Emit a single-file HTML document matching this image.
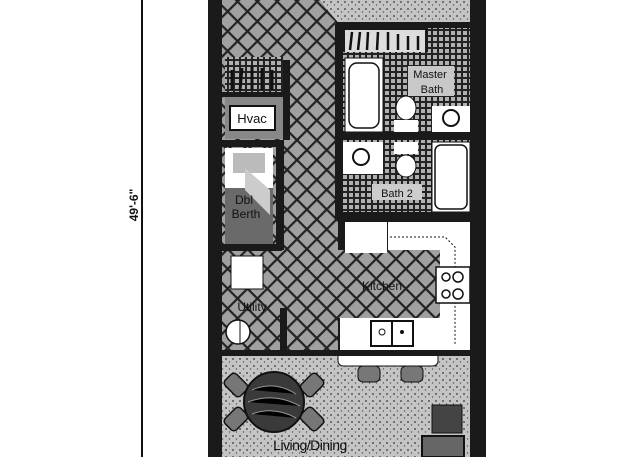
<!DOCTYPE html>
<html><head><meta charset="utf-8"><style>
html,body{margin:0;padding:0;background:#fff;}
svg{display:block;}
text{font-family:"Liberation Sans",sans-serif;}
</style></head><body>
<svg width="640" height="457" viewBox="0 0 640 457" xmlns="http://www.w3.org/2000/svg">
<defs>
<pattern id="xh" width="14" height="14" patternUnits="userSpaceOnUse" patternTransform="rotate(45)">
<rect width="14" height="14" fill="#a0a0a0"/>
<rect width="14" height="2.2" fill="#222"/><rect width="2.2" height="14" fill="#222"/>
</pattern>
<pattern id="grid" width="6" height="6" patternUnits="userSpaceOnUse">
<rect width="6" height="6" fill="#222"/>
<rect x="1" y="1" width="4" height="4" fill="#b0b0b0"/>
</pattern>
<pattern id="dots" width="7" height="7" patternUnits="userSpaceOnUse">
<rect width="7" height="7" fill="#c4c4c4"/>
<circle cx="2" cy="2" r="0.9" fill="#333"/><circle cx="5.5" cy="5" r="0.7" fill="#555"/>
</pattern>
</defs>
<rect width="640" height="457" fill="#fff"/>
<line x1="142" y1="0" x2="142" y2="457" stroke="#111" stroke-width="2"/>
<text transform="translate(138,205) rotate(-90)" font-size="12" font-weight="bold" text-anchor="middle" fill="#111">49'-6"</text>
<rect x="208" y="0" width="278" height="457" fill="#1a1a1a"/>
<rect x="222" y="0" width="116" height="350" fill="url(#xh)"/>
<rect x="340" y="0" width="132" height="24" fill="url(#dots)"/>
<path d="M320 0 Q335 20 340 24 L340 0Z" fill="url(#dots)"/>
<rect x="345" y="30" width="80" height="22" fill="#ddd"/>
<g stroke="#111" stroke-width="2.5"><line x1="352" y1="32" x2="350" y2="50"/><line x1="360" y1="32" x2="358" y2="50"/><line x1="368" y1="32" x2="367" y2="50"/><line x1="378" y1="32" x2="377" y2="50"/><line x1="388" y1="32" x2="388" y2="50"/><line x1="398" y1="34" x2="398" y2="50"/><line x1="408" y1="36" x2="408" y2="50"/><line x1="418" y1="36" x2="418" y2="50"/></g>
<rect x="428" y="26" width="42" height="26" fill="url(#grid)"/>
<rect x="343" y="52" width="127" height="80" fill="url(#grid)"/>
<rect x="345" y="58" width="38" height="74" fill="#fff" stroke="#111"/>
<rect x="349" y="63" width="30" height="65" rx="8" fill="#fff" stroke="#111" stroke-width="1.5"/>
<ellipse cx="406" cy="108" rx="10" ry="12" fill="#fff" stroke="#111"/>
<rect x="394" y="120" width="24" height="12" fill="#fff"/>
<rect x="432" y="106" width="38" height="26" fill="#fff"/>
<circle cx="451" cy="118" r="8" fill="none" stroke="#111" stroke-width="2"/>
<rect x="408" y="66" width="46" height="30" fill="#c8c8c8"/>
<text x="430" y="78" font-size="11" text-anchor="middle" fill="#111">Master</text>
<text x="432" y="93" font-size="11" text-anchor="middle" fill="#111">Bath</text>
<rect x="343" y="140" width="127" height="72" fill="url(#grid)"/>
<rect x="343" y="142" width="40" height="32" fill="#fff"/>
<circle cx="361" cy="157" r="8" fill="none" stroke="#111" stroke-width="2"/>
<rect x="394" y="142" width="24" height="12" fill="#fff"/>
<ellipse cx="406" cy="166" rx="10" ry="11" fill="#fff" stroke="#111"/>
<rect x="432" y="142" width="38" height="70" fill="#fff" stroke="#111"/>
<rect x="435" y="145" width="32" height="64" rx="6" fill="#fff" stroke="#111" stroke-width="1.5"/>
<rect x="372" y="184" width="50" height="16" fill="#ccc"/>
<text x="397" y="197" font-size="11" text-anchor="middle" fill="#111">Bath 2</text>
<rect x="225" y="57" width="58" height="35" fill="url(#grid)"/>
<g stroke="#111" stroke-width="3"><line x1="232" y1="70" x2="232" y2="90"/><line x1="242" y1="68" x2="240" y2="90"/><line x1="252" y1="66" x2="252" y2="90"/><line x1="262" y1="68" x2="262" y2="90"/><line x1="272" y1="70" x2="272" y2="90"/></g>
<rect x="225" y="97" width="58" height="42" fill="#888"/>
<rect x="230" y="106" width="45" height="24" fill="#fff" stroke="#111" stroke-width="2"/>
<text x="252" y="123" font-size="13" text-anchor="middle" fill="#111">Hvac</text>
<rect x="225" y="148" width="48" height="96" fill="#6a6a6a"/>
<rect x="225" y="148" width="48" height="40" fill="#fff"/>
<rect x="233" y="153" width="32" height="20" fill="#bbb"/>
<polygon points="245,168 270,190 270,215 245,190" fill="#ccc"/>
<text x="244" y="204" font-size="12" text-anchor="middle" fill="#111">Dbl</text>
<text x="246" y="218" font-size="12" text-anchor="middle" fill="#111">Berth</text>
<rect x="224" y="252" width="56" height="96" fill="url(#xh)"/>
<rect x="231" y="256" width="32" height="33" fill="#fff" stroke="#111"/>
<text x="252" y="311" font-size="12" text-anchor="middle" fill="#111">Utility</text>
<circle cx="238" cy="332" r="12" fill="#fff" stroke="#111" stroke-width="1.5"/>
<line x1="240" y1="320" x2="240" y2="344" stroke="#111"/>
<rect x="288" y="250" width="152" height="68" fill="url(#xh)"/>
<rect x="345" y="222" width="42" height="31" fill="#fff"/>
<rect x="388" y="222" width="82" height="28" fill="#fff"/>
<rect x="440" y="222" width="30" height="128" fill="#fff"/>
<path d="M390 237 L445 237 L455 247 L455 345" fill="none" stroke="#111" stroke-dasharray="2,2"/>
<rect x="436" y="267" width="34" height="36" fill="#fff" stroke="#111" stroke-width="1.5"/>
<g fill="none" stroke="#111" stroke-width="1.5"><circle cx="446" cy="277" r="4"/><circle cx="458" cy="277" r="5"/><circle cx="446" cy="294" r="4"/><circle cx="458" cy="294" r="5"/></g>
<text x="382" y="290" font-size="12" text-anchor="middle" fill="#111">Kitchen</text>
<rect x="340" y="318" width="100" height="32" fill="#fff"/>
<rect x="371" y="321" width="42" height="25" fill="#fff" stroke="#111" stroke-width="2"/>
<line x1="392" y1="321" x2="392" y2="346" stroke="#111" stroke-width="2"/>
<circle cx="382" cy="332" r="3" fill="none" stroke="#111"/><circle cx="402" cy="332" r="2" fill="#111"/>
<rect x="222" y="356" width="250" height="101" fill="url(#dots)"/>
<rect x="338" y="352" width="100" height="14" rx="5" fill="#fff" stroke="#111"/>
<rect x="358" y="366" width="22" height="16" rx="5" fill="#777" stroke="#111"/>
<rect x="401" y="366" width="22" height="16" rx="5" fill="#777" stroke="#111"/>
<g fill="#777" stroke="#111" stroke-width="1.5">
<rect x="228" y="374" width="16" height="22" rx="4" transform="rotate(-45 236 385)"/>
<rect x="304" y="374" width="16" height="22" rx="4" transform="rotate(45 312 385)"/>
<rect x="228" y="408" width="16" height="22" rx="4" transform="rotate(45 236 419)"/>
<rect x="304" y="408" width="16" height="22" rx="4" transform="rotate(-45 312 419)"/>
</g>
<circle cx="274" cy="402" r="30" fill="#3a3a3a" stroke="#111" stroke-width="2"/>
<g stroke="#999" stroke-width="1"><path d="M252 390 Q274 380 296 394"/><path d="M248 402 Q274 392 300 406"/><path d="M252 414 Q274 406 296 418"/></g>
<rect x="432" y="405" width="30" height="28" fill="#444" stroke="#111"/>
<rect x="422" y="436" width="42" height="21" fill="#666" stroke="#111" stroke-width="2"/>
<text x="310" y="450" font-size="14" text-anchor="middle" fill="#111" letter-spacing="-0.5">Living/Dining</text>
<g fill="#1a1a1a">
<rect x="208" y="0" width="14" height="457"/>
<rect x="470" y="0" width="16" height="457"/>
<rect x="336" y="22" width="136" height="6"/>
<rect x="335" y="24" width="8" height="196"/>
<rect x="340" y="132" width="132" height="8"/>
<rect x="340" y="212" width="132" height="8"/>
<rect x="222" y="350" width="250" height="6"/>
<rect x="276" y="140" width="8" height="110"/>
<rect x="280" y="308" width="7" height="46"/>
<rect x="222" y="244" width="60" height="7"/>
<rect x="222" y="92" width="62" height="5"/>
<rect x="222" y="140" width="62" height="7"/>
<rect x="283" y="60" width="7" height="80"/>
</g>
</svg>
</body></html>
